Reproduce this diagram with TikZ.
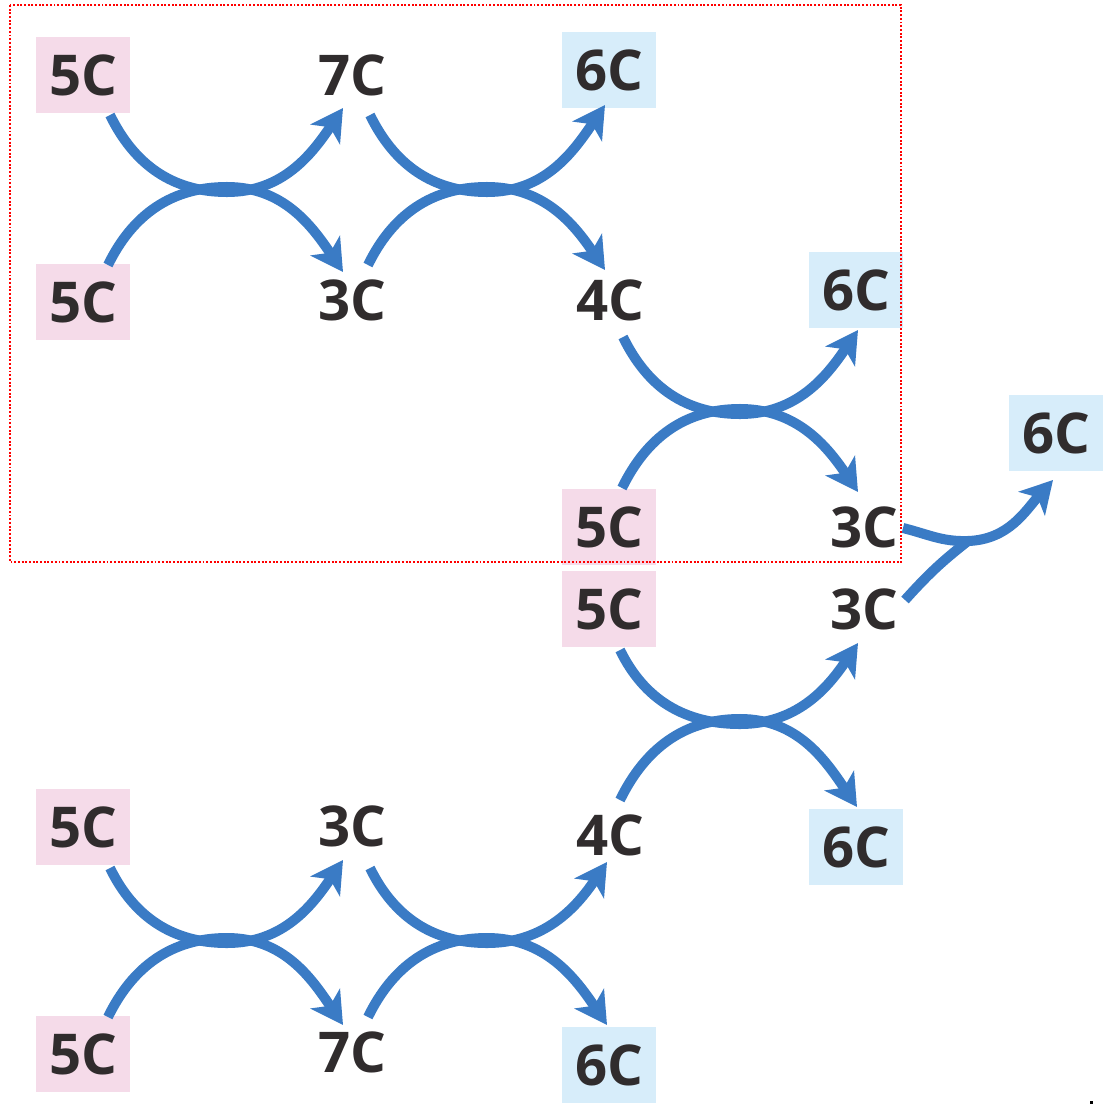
\documentclass[tikz,border=0pt]{standalone}
\usepackage{fontspec}
\setmainfont{Open Sans}
\usetikzlibrary{arrows.meta}

\definecolor{flowblue}{HTML}{3A7BC5}
\definecolor{pentose}{HTML}{F5DBE9}
\definecolor{hexose}{HTML}{D7EDFA}
\definecolor{ink}{HTML}{302C2D}

\tikzset{
  sugar/.style={minimum width=0.94cm, minimum height=0.75cm, inner sep=0pt,
    text=ink, font=\fontsize{16pt}{18pt}\selectfont\bfseries},
  five/.style={sugar, fill=pentose},
  six/.style={sugar, fill=hexose},
  plain/.style={sugar},
  flow/.style={draw=flowblue, line width=2.85pt,
    -{Stealth[length=9pt,width=10pt,inset=2.4pt]}},
  feed/.style={draw=flowblue, line width=2.85pt},
  dip/.style={out=-64,in=180},
  rise/.style={out=64,in=180},
  up/.style={out=0,in=-124},
  down/.style={out=0,in=124},
  frame/.style={draw=red, line width=0.8pt, dash pattern=on 0.55pt off 0.5pt}
}

\begin{document}
\begin{tikzpicture}[x=0.01cm, y=-0.01cm]
  \useasboundingbox (0,0) rectangle (1102,1106);

  % ---- upper branch ----
  \node[five]  (a1) at (83,75)   {5C};
  \node[five]  (a2) at (83,302)  {5C};
  \node[plain] (b1) at (352,75)  {7C};
  \node[plain] (b2) at (352,300) {3C};
  \node[six]   (c1) at (609,70)  {6C};
  \node[plain] (c2) at (610,300) {4C};
  \node[six]   (d1) at (856,290) {6C};
  \node[five]  (d2) at (609,527) {5C};
  \node[plain] (d3) at (864,527) {3C};
  \node[six]   (e)  at (1056,433) {6C};

  % ---- lower branch ----
  \node[five]  (f1) at (609,609) {5C};
  \node[plain] (f2) at (864,609) {3C};
  \node[plain] (g1) at (610,835) {4C};
  \node[six]   (g2) at (856,847) {6C};
  \node[five]  (h1) at (83,827)  {5C};
  \node[five]  (h2) at (83,1054) {5C};
  \node[plain] (i1) at (352,826) {3C};
  \node[plain] (i2) at (352,1052) {7C};
  \node[six]   (j)  at (609,1065) {6C};

  % meeting points of the exchanging chains
  \coordinate (x1v) at (227,192); \coordinate (x1h) at (227,187);
  \coordinate (x2v) at (487,192); \coordinate (x2h) at (487,187);
  \coordinate (x3v) at (740,414); \coordinate (x3h) at (740,409);
  \coordinate (x5v) at (227,943); \coordinate (x5h) at (227,938);
  \coordinate (x6v) at (487,943); \coordinate (x6h) at (487,938);
  \coordinate (x7v) at (740,724); \coordinate (x7h) at (740,719);
  \coordinate (m)   at (968,541);

  % transketolase: 5C + 5C -> 7C + 3C
  \draw[flow] ([shift={(27,40)}]a1.center) to[dip] (x1v)
              to[up] ([shift={(-9,33)}]b1.center);
  \draw[flow] ([shift={(25,-37)}]a2.center) to[rise] (x1h)
              to[down] ([shift={(-9,-28)}]b2.center);

  % transaldolase: 7C + 3C -> 6C + 4C
  \draw[flow] ([shift={(18,40)}]b1.center) to[dip] (x2v)
              to[up] ([shift={(-4,35)}]c1.center);
  \draw[flow] ([shift={(16,-35)}]b2.center) to[rise] (x2h)
              to[down] ([shift={(-5,-30)}]c2.center);

  % transketolase: 4C + 5C -> 6C + 3C
  \draw[flow] ([shift={(13,37)}]c2.center) to[dip] (x3v)
              to[up] ([shift={(2,40)}]d1.center);
  \draw[flow] ([shift={(13,-39)}]d2.center) to[rise] (x3h)
              to[down] ([shift={(-6,-35)}]d3.center);

  % 3C + 3C -> 6C
  \draw[feed] ([shift={(41,-9)}]f2.center) to[out=48,in=218] (m);
  \draw[flow] ([shift={(39,1)}]d3.center) to[out=-14,in=182] (m)
              to[out=2,in=-132] ([shift={(-3,47)}]e.center);

  % transketolase: 5C + 5C -> 3C + 7C
  \draw[flow] ([shift={(27,41)}]h1.center) to[dip] (x5v)
              to[up] ([shift={(-9,34)}]i1.center);
  \draw[flow] ([shift={(25,-37)}]h2.center) to[rise] (x5h)
              to[down] ([shift={(-9,-27)}]i2.center);

  % transaldolase: 3C + 7C -> 4C + 6C
  \draw[flow] ([shift={(18,42)}]i1.center) to[dip] (x6v)
              to[up] ([shift={(-3,27)}]g1.center);
  \draw[flow] ([shift={(16,-35)}]i2.center) to[rise] (x6h)
              to[down] ([shift={(-2,-40)}]j.center);

  % transketolase: 5C + 4C -> 3C + 6C
  \draw[flow] ([shift={(11,41)}]f1.center) to[dip] (x7v)
              to[up] ([shift={(-6,34)}]f2.center);
  \draw[flow] ([shift={(10,-35)}]g1.center) to[rise] (x7h)
              to[down] ([shift={(1,-40)}]g2.center);

  % dotted frame round the first half of the cycle
  \draw[frame] (10,5) rectangle (901,562);

  % small mark in the lower right corner
  \fill[black] (1090,1101) rectangle (1093,1104);
\end{tikzpicture}
\end{document}
